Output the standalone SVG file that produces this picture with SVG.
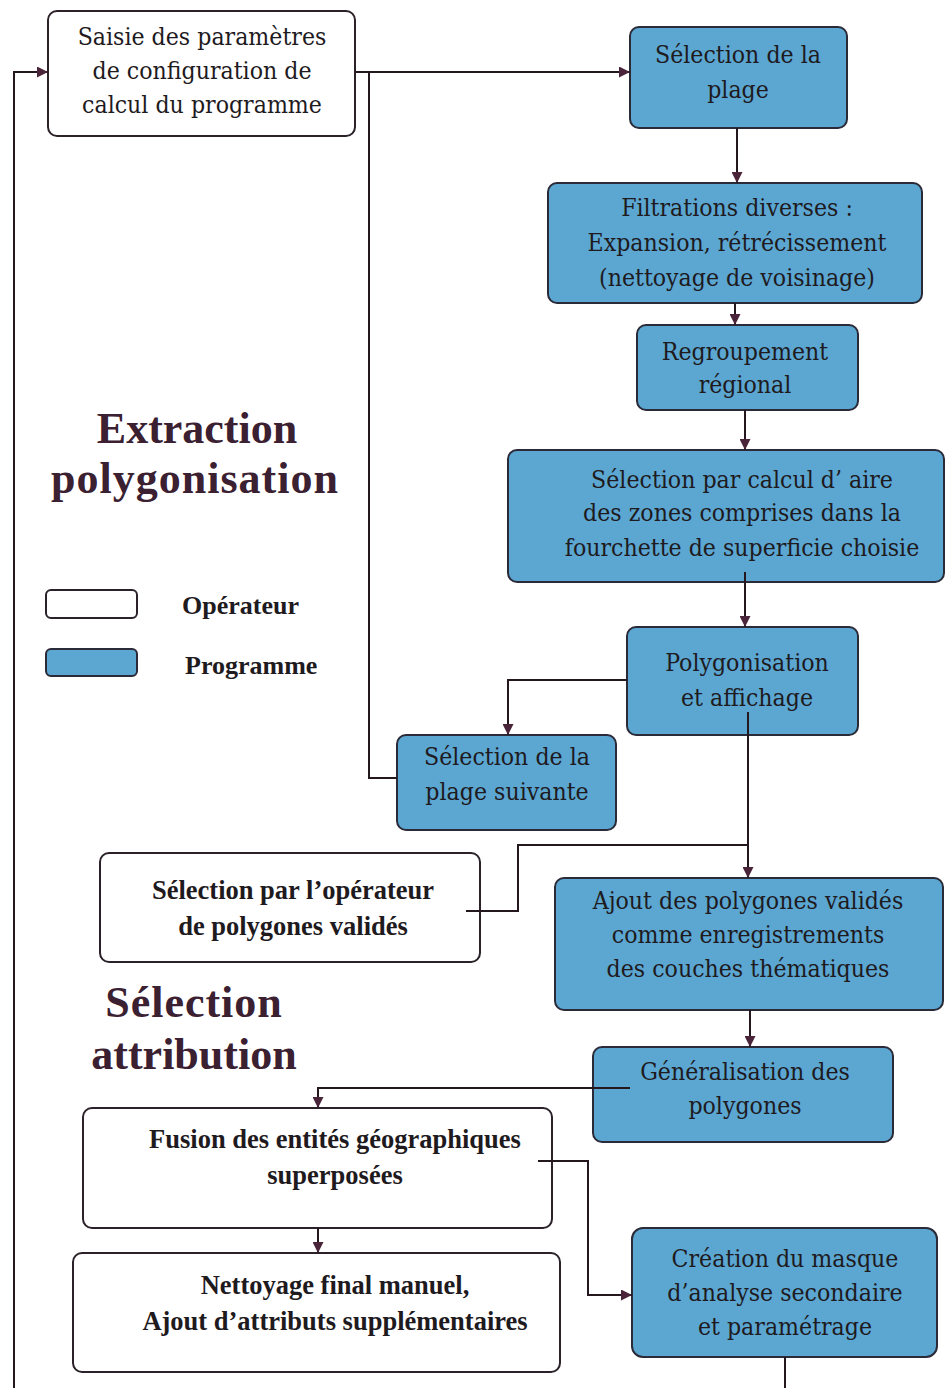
<svg xmlns="http://www.w3.org/2000/svg" width="946" height="1388" viewBox="0 0 946 1388">
<defs>
<style>
.op{fill:#ffffff;stroke:#2a2228;stroke-width:2}
.pr{fill:#5ba7d2;stroke:#2a2a38;stroke-width:2}
.t{font-family:'DejaVu Serif',serif;font-stretch:condensed;font-size:24.6px;fill:#1e1a1e;text-anchor:middle}
.tb{font-family:'Liberation Serif','DejaVu Serif',serif;font-size:26.5px;font-weight:bold;fill:#1e1a1e;text-anchor:middle}
.title{font-family:'Liberation Serif','DejaVu Serif',serif;font-size:44px;font-weight:bold;fill:#3a2030;text-anchor:middle}
.leg{font-family:'Liberation Serif','DejaVu Serif',serif;font-size:26px;font-weight:bold;fill:#1e1a1e}
.c{fill:none;stroke:#24181e;stroke-width:2}
</style>
<marker id="ah" viewBox="0 0 10 10" refX="10" refY="5" markerWidth="11" markerHeight="11" markerUnits="userSpaceOnUse" orient="auto">
<path d="M0,0 L10,5 L0,10 z" fill="#4a2438"/>
</marker>
</defs>
<rect width="946" height="1388" fill="#ffffff"/>

<g id="titles">
<text class="title" x="197" y="443">Extraction</text>
<text class="title" x="195" y="493" letter-spacing="1">polygonisation</text>
<text class="title" x="194" y="1017" letter-spacing="1">Sélection</text>
<text class="title" x="194" y="1069">attribution</text>
</g>

<g id="legend">
<rect class="op" x="46" y="590" width="91" height="28" rx="5"/>
<text class="leg" x="182" y="614">Opérateur</text>
<rect class="pr" x="46" y="649" width="91" height="27" rx="5"/>
<text class="leg" x="185" y="674">Programme</text>
</g>

<g id="n-saisie">
<rect class="op" x="48" y="11" width="307" height="125" rx="9"/>
<text class="t" x="202" y="45">Saisie des paramètres</text>
<text class="t" x="202" y="79">de configuration de</text>
<text class="t" x="202" y="113">calcul du programme</text>
</g>

<g id="n-plage">
<rect class="pr" x="630" y="27" width="217" height="101" rx="9"/>
<text class="t" x="738" y="63">Sélection de la</text>
<text class="t" x="738" y="98">plage</text>
</g>

<g id="n-filtrations">
<rect class="pr" x="548" y="183" width="374" height="120" rx="9"/>
<text class="t" x="737" y="216">Filtrations diverses :</text>
<text class="t" x="737" y="251">Expansion, rétrécissement</text>
<text class="t" x="737" y="286">(nettoyage de voisinage)</text>
</g>

<g id="n-regroupement">
<rect class="pr" x="637" y="325" width="221" height="85" rx="9"/>
<text class="t" x="745" y="360">Regroupement</text>
<text class="t" x="745" y="393">régional</text>
</g>

<g id="n-aire">
<rect class="pr" x="508" y="450" width="436" height="132" rx="9"/>
<text class="t" x="742" y="488">Sélection par calcul d’ aire</text>
<text class="t" x="742" y="521">des zones comprises dans la</text>
<text class="t" x="742" y="556">fourchette de superficie choisie</text>
</g>

<g id="n-polygonisation">
<rect class="pr" x="627" y="627" width="231" height="108" rx="9"/>
<text class="t" x="747" y="671">Polygonisation</text>
<text class="t" x="747" y="706">et affichage</text>
</g>

<g id="n-suivante">
<rect class="pr" x="397" y="735" width="219" height="95" rx="9"/>
<text class="t" x="507" y="765">Sélection de la</text>
<text class="t" x="507" y="800">plage suivante</text>
</g>

<g id="n-operateur">
<rect class="op" x="100" y="853" width="380" height="109" rx="9"/>
<text class="tb" x="293" y="899">Sélection par l’opérateur</text>
<text class="tb" x="293" y="935">de polygones validés</text>
</g>

<g id="n-ajout">
<rect class="pr" x="555" y="878" width="388" height="132" rx="9"/>
<text class="t" x="748" y="909">Ajout des polygones validés</text>
<text class="t" x="748" y="943">comme enregistrements</text>
<text class="t" x="748" y="977">des couches thématiques</text>
</g>

<g id="n-generalisation">
<rect class="pr" x="593" y="1047" width="300" height="95" rx="9"/>
<text class="t" x="745" y="1080">Généralisation des</text>
<text class="t" x="745" y="1114">polygones</text>
</g>

<g id="n-fusion">
<rect class="op" x="83" y="1108" width="469" height="120" rx="9"/>
<text class="tb" x="335" y="1148">Fusion des entités géographiques</text>
<text class="tb" x="335" y="1184">superposées</text>
</g>

<g id="n-nettoyage">
<rect class="op" x="73" y="1253" width="487" height="119" rx="9"/>
<text class="tb" x="335" y="1294">Nettoyage final manuel,</text>
<text class="tb" x="335" y="1330">Ajout d’attributs  supplémentaires</text>
</g>

<g id="n-masque">
<rect class="pr" x="632" y="1228" width="305" height="129" rx="11"/>
<text class="t" x="785" y="1267">Création du masque</text>
<text class="t" x="785" y="1301">d’analyse secondaire</text>
<text class="t" x="785" y="1335">et paramétrage</text>
</g>

<g id="connectors">
<path class="c" d="M14,1388 V72 H48" marker-end="url(#ah)"/>
<path class="c" d="M355,72 H630" marker-end="url(#ah)"/>
<path class="c" d="M369,72 V778 H397"/>
<path class="c" d="M737,128 V183" marker-end="url(#ah)"/>
<path class="c" d="M735,303 V325" marker-end="url(#ah)"/>
<path class="c" d="M745,410 V450" marker-end="url(#ah)"/>
<path class="c" d="M745,572 V627" marker-end="url(#ah)"/>
<path class="c" d="M627,680 H508 V735" marker-end="url(#ah)"/>
<path class="c" d="M748,712 V878" marker-end="url(#ah)"/>
<path class="c" d="M466,911 H518 V845 H748"/>
<path class="c" d="M750,1010 V1047" marker-end="url(#ah)"/>
<path class="c" d="M630,1088 H318 V1108" marker-end="url(#ah)"/>
<path class="c" d="M318,1228 V1253" marker-end="url(#ah)"/>
<path class="c" d="M538,1161 H588 V1295 H632" marker-end="url(#ah)"/>
<path class="c" d="M785,1357 V1388"/>
</g>
</svg>
